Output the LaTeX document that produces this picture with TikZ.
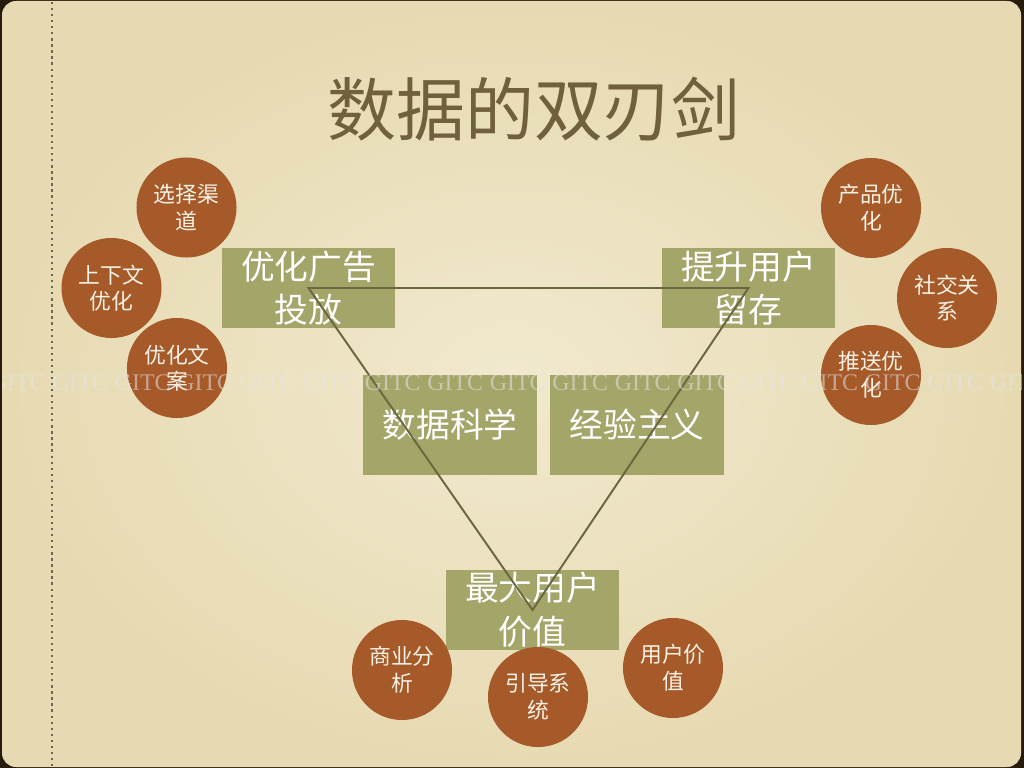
\documentclass[tikz,border=0pt]{standalone}
\usepackage{fontspec}
\setmainfont{Noto Sans CJK SC}
\newfontfamily\wmfont{Liberation Serif}
\usetikzlibrary{positioning}
\definecolor{paper}{RGB}{231,218,178}
\definecolor{paperin}{RGB}{241,233,206}
\definecolor{frame}{RGB}{38,27,12}
\definecolor{olive}{RGB}{164,165,104}
\definecolor{rust}{RGB}{166,89,41}
\definecolor{headcol}{RGB}{112,96,62}
\definecolor{edgecol}{RGB}{106,104,64}
\definecolor{dotcol}{RGB}{110,102,86}
\definecolor{bubtext}{RGB}{248,242,228}

\begin{document}
\begin{tikzpicture}[x=0.025cm,y=-0.025cm]

		\tikzset{box/.style={fill=olive,inner sep=0pt,minimum width=4.33cm,minimum height=2cm,text=white,align=center,font=\fontsize{24}{31}\selectfont}}
		\tikzset{bubble/.style={circle,fill=rust,inner sep=0pt,minimum size=2.5cm,text=bubtext,align=center,font=\fontsize{15.5}{19}\selectfont}}
		\tikzset{edge/.style={draw=edgecol,line width=1.4pt}}
		\tikzset{wmark/.style={anchor=west,inner sep=0pt,text=white!80!gray,opacity=0.55,font=\wmfont\fontsize{17}{17}\selectfont}}

		% slide
		\useasboundingbox (0,0) rectangle (1024,768);
		\fill[frame] (0,0) rectangle (1024,768);
		\shade[inner color=paperin,outer color=paper,rounded corners=0.35cm] (2,1) rectangle (1021,767);
		\draw[dotcol,line width=1.6pt,dash pattern=on 1.6pt off 2.7pt] (52,2) -- (52,767);

		\node[text=headcol,font=\fontsize{49}{55}\selectfont] (head) at (534,109) {数据的双刃剑};

		\node[box] (ad) at (308.5,288) {优化广告\\投放};
		\node[box] (keep) at (748.5,288) {提升用户\\留存};
		\node[box,minimum height=2.5cm] (sci) at (450,425) {数据科学};
		\node[box,minimum height=2.5cm,right=0.33cm of sci] (exp) {经验主义};
		\node[box] (value) at (532.5,610) {最大用户\\价值};

		\node[bubble] (l1) at (186.5,207.5) {选择渠\\道};
		\node[bubble] (l2) at (111.5,288) {上下文\\优化};
		\node[bubble] (l3) at (177,368) {优化文\\案};

		\node[bubble] (r1) at (871,208) {产品优\\化};
		\node[bubble] (r2) at (947,298) {社交关\\系};
		\node[bubble] (r3) at (871,375) {推送优\\化};

		\node[bubble] (b1) at (402,670) {商业分\\析};
		\node[bubble] (b2) at (538,697) {引导系\\统};
		\node[bubble] (b3) at (673,668) {用户价\\值};

		\path[edge] (ad.center) -- (keep.center) -- (value.center) -- cycle;

		% watermark
		\begin{scope}
			\clip (2,1) rectangle (1021,767);
			\foreach \k in {-1,...,15}
				\node[wmark] (w\k) at (52+62.5*\k,383) {GITC};
		\end{scope}

	\end{tikzpicture}
\end{document}
